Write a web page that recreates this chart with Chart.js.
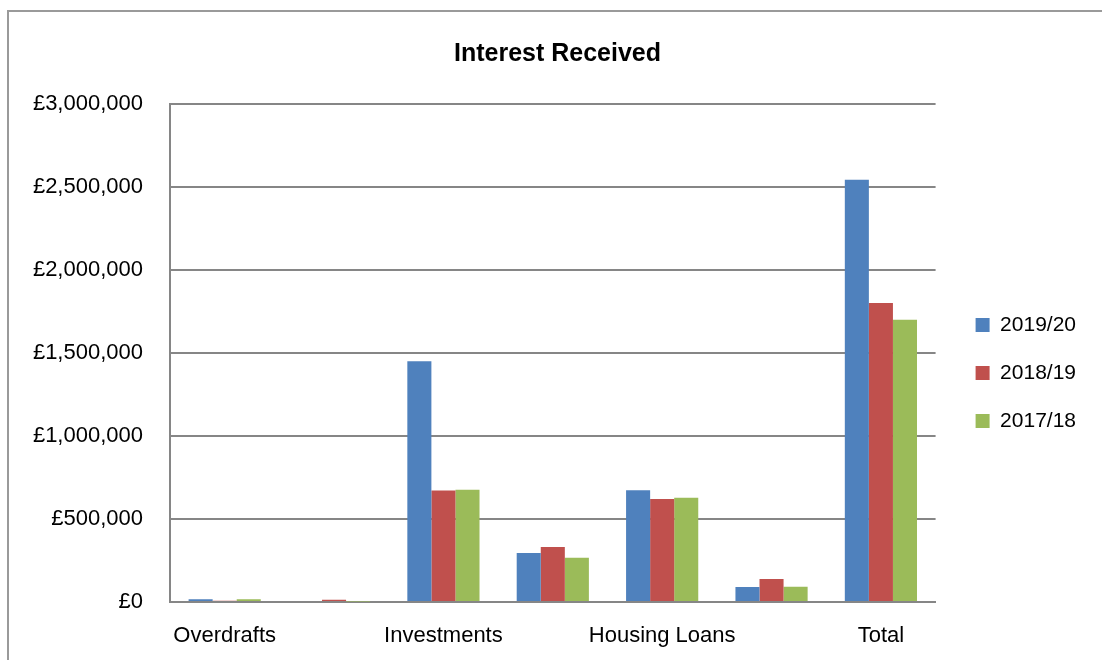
<!DOCTYPE html>
<html lang="en">
<head>
    <meta charset="UTF-8">
    <title>Interest Received</title>
    <script src="https://cdn.jsdelivr.net/npm/chart.js"></script>
    <style>
        body {
            margin: 0;
            padding: 0;
            background: #fff;
            font-family: "Liberation Sans", Arial, sans-serif;
        }
        #wrap {
            position: absolute;
            left: 0;
            top: 0;
            width: 1102px;
            height: 660px;
            overflow: hidden;
        }
        #frame {
            position: absolute;
            left: 7px;
            top: 10px;
            width: 1120px;
            height: 680px;
            border: 2px solid #9a9a9a;
            pointer-events: none;
        }
    </style>
</head>
<body>
<div id="wrap">
    <canvas id="chart"></canvas>
    <div id="frame"></div>
</div>
<script>
    // categories (only every other one has a visible label in the original)
    const categories = ['Overdrafts', 'Bank Interest', 'Investments', 'Other Interest', 'Housing Loans', 'Personal Loans', 'Total'];
    const seriesNames = ['2019/20', '2018/19', '2017/18'];
    const values1920 = [16000, 6000, 1450000, 295000, 673000, 90000, 2543000];
    const values1819 = [8000, 13000, 672000, 331000, 621000, 139000, 1801000];
    const values1718 = [17000, 3000, 676000, 267000, 628000, 92000, 1700000];
    const colours = ['#4F81BD', '#C0504D', '#9BBB59'];

    const yMax = 3000000;
    const yStep = 500000;

    const font = 'Liberation Sans, Arial, sans-serif';
    const gridColour = '#868686';

    const datasets = [values1920, values1819, values1718].map((vals, i) => ({
        label: seriesNames[i],
        data: vals,
        backgroundColor: colours[i],
        borderWidth: 0,
        categoryPercentage: 0.66,
        barPercentage: 1.0
    }));

    new Chart(document.getElementById('chart'), {
        type: 'bar',
        data: { labels: categories, datasets: datasets },
        options: {
            responsive: true,
            maintainAspectRatio: false,
            animation: false,
            layout: { padding: { left: 29, right: 16, top: 0, bottom: 0 } },
            plugins: {
                title: {
                    display: true,
                    text: 'Interest Received',
                    color: '#000',
                    font: { family: font, size: 25, weight: 'bold' },
                    padding: { top: 39, bottom: 35 }
                },
                legend: {
                    position: 'right',
                    title: {
                        display: true,
                        text: '',
                        font: { size: 10 },
                        padding: { top: 37, bottom: 37 }
                    },
                    labels: {
                        boxWidth: 14,
                        boxHeight: 14,
                        padding: 27,
                        color: '#000',
                        font: { family: font, size: 21 }
                    }
                },
                tooltip: { enabled: false }
            },
            scales: {
                x: {
                    grid: { display: false, drawTicks: false },
                    border: { color: gridColour, width: 2 },
                    ticks: {
                        autoSkip: false,
                        maxRotation: 0,
                        padding: 21,
                        color: '#000',
                        font: { family: font, size: 22 },
                        callback: function (val, i) {
                            return i % 2 === 0 ? this.getLabelForValue(val) : '';
                        }
                    },
                    afterFit: s => { s.height = 58; }
                },
                y: {
                    min: 0,
                    max: yMax,
                    grid: { color: gridColour, lineWidth: 2, drawTicks: false },
                    border: { color: gridColour, width: 2 },
                    ticks: {
                        stepSize: yStep,
                        padding: 27,
                        color: '#000',
                        font: { family: font, size: 22 },
                        callback: v => '£' + v.toLocaleString('en-GB')
                    },
                    afterFit: s => { s.width = 141; }
                },
                gap: {
                    position: 'right',
                    min: 0,
                    max: 1,
                    grid: { display: false, drawTicks: false },
                    border: { display: false },
                    ticks: { display: false },
                    afterFit: s => { s.width = 13; }
                }
            }
        }
    });
</script>
</body>
</html>
